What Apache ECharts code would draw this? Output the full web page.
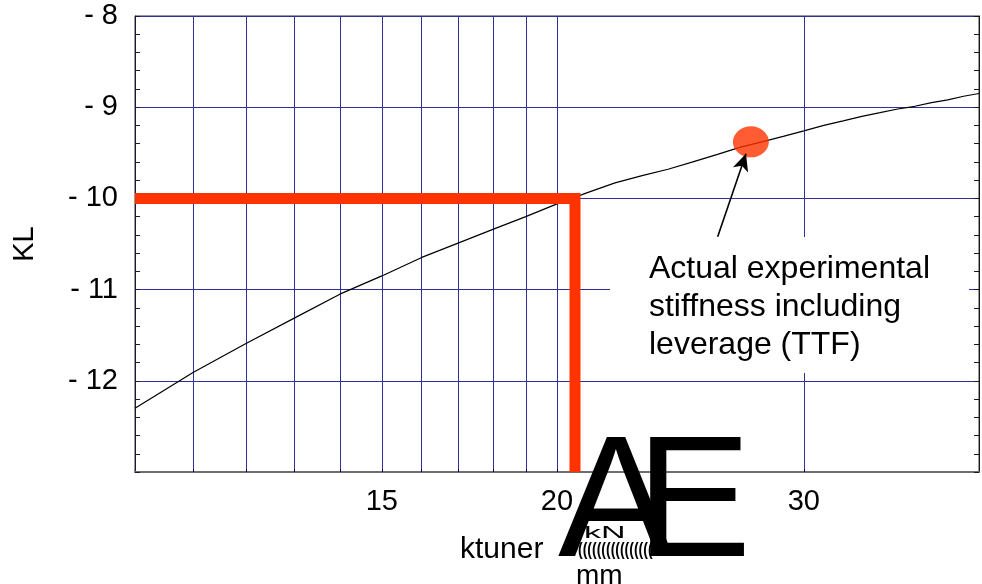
<!DOCTYPE html>
<html>
<head>
<meta charset="utf-8">
<script src="https://cdn.jsdelivr.net/npm/echarts@6/dist/echarts.min.js"></script>
<style>
  html, body { margin: 0; padding: 0; background: #fff; }
  #chart { width: 982px; height: 584px; }
</style>
</head>
<body>
<div id="chart"></div>
<script>
// Tuner stiffness ktuner [kN/mm] against KL
const ktuner = [10, 11, 12, 13, 14, 15, 16, 17, 18, 19, 20, 21, 22, 23, 24, 25,
                26, 27, 28, 29, 30, 31, 32, 33, 34, 35, 36, 37, 38, 39, 40];
const klValues = [-12.30, -11.91, -11.59, -11.31, -11.05, -10.85, -10.65, -10.49,
                  -10.34, -10.20, -10.06, -9.94, -9.83, -9.75, -9.68, -9.60,
                  -9.52, -9.44, -9.38, -9.32, -9.26, -9.20, -9.15, -9.10, -9.06,
                  -9.02, -8.99, -8.95, -8.92, -8.88, -8.85];

// Design point: KL = -10 reached at ktuner ~ 20.6
const targetKtuner = 20.6;
const targetKL = -10;

// Measured stiffness (including leverage)
const measuredPoint = [27.5, -9.38];
const arrowTail = [26.04, -10.42];
const arrowHead = [27.28, -9.51];
const noteAnchor = [29.3, -11.17];
const noteLines = ['Actual experimental', 'stiffness including', 'leverage (TTF)'];

// Axis ticks
const xGridValues = [11, 12, 13, 14, 15, 16, 17, 18, 19, 20, 30];
const xLabelValues = [15, 20, 30];
const yMin = -13, yMax = -8;

const ORANGE = '#ff3300';
const GRID_BLUE = '#30309a';
const FONT = 'Arial, "Liberation Sans", Helvetica, sans-serif';

const chart = echarts.init(document.getElementById('chart'), null, { renderer: 'canvas' });

const curveData = ktuner.map((k, i) => [k, klValues[i]]);
const xMin = ktuner[0], xMax = ktuner[ktuner.length - 1];
const targetPath = [[xMin, targetKL], [targetKtuner, targetKL], [targetKtuner, yMin]];

chart.setOption({
  animation: false,
  backgroundColor: '#fff',
  grid: { left: 135, right: 3, top: 16, bottom: 112, show: true, borderColor: '#333', borderWidth: 1 },
  xAxis: [{
    type: 'log',
    logBase: 10,
    min: xMin,
    max: xMax,
    axisLine: { show: true, lineStyle: { color: '#6e6e6e', width: 2 } },
    axisTick: { show: true, inside: true, length: 3, customValues: xGridValues,
                lineStyle: { color: '#000060', width: 1 } },
    minorTick: { show: false },
    axisLabel: { customValues: xLabelValues, formatter: v => String(Math.round(v)),
                 fontSize: 29, fontFamily: FONT, color: '#000', margin: 15 },
    splitLine: { show: true, lineStyle: { color: GRID_BLUE, width: 1 } }
  }],
  yAxis: [{
    type: 'value',
    position: 'left',
    min: yMin,
    max: yMax,
    interval: 1,
    name: 'KL',
    nameLocation: 'middle',
    nameGap: 96,
    nameTextStyle: { fontSize: 29, fontFamily: FONT, color: '#000' },
    axisLine: { show: true, lineStyle: { color: '#1a1a3a', width: 1 } },
    axisTick: { show: true, inside: true, length: 5, lineStyle: { color: '#1a1a3a' } },
    minorTick: { show: true, splitNumber: 5, length: 5, lineStyle: { color: '#1a1a3a' } },
    axisLabel: {
      formatter: v => (v === yMin ? '' : '- ' + Math.abs(v)),
      fontSize: 29, fontFamily: FONT, color: '#000', margin: 17
    },
    splitLine: { show: true, lineStyle: { color: GRID_BLUE, width: 1 } }
  }, {
    type: 'value',
    position: 'right',
    min: yMin,
    max: yMax,
    interval: 1,
    axisLine: { show: true, lineStyle: { color: '#1a1a1a', width: 1 } },
    axisTick: { show: true, inside: true, length: 5, lineStyle: { color: '#1a1a1a' } },
    minorTick: { show: true, splitNumber: 5, length: 5, lineStyle: { color: '#1a1a1a' } },
    axisLabel: { show: false },
    splitLine: { show: false }
  }],
  series: [{
    name: 'KL',
    type: 'line',
    data: curveData,
    symbol: 'none',
    silent: true,
    z: 2,
    lineStyle: { color: '#000', width: 1.2 }
  }, {
    name: 'target',
    type: 'line',
    data: targetPath,
    symbol: 'none',
    silent: true,
    z: 3,
    lineStyle: { color: ORANGE, width: 11, join: 'miter', cap: 'butt' }
  }, {
    name: 'measured',
    type: 'scatter',
    data: [measuredPoint],
    symbol: 'circle',
    symbolSize: [36, 31],
    silent: true,
    z: 4,
    itemStyle: { color: ORANGE },
    markLine: {
      silent: true,
      symbol: ['none', 'arrow'],
      symbolSize: [12, 17],
      label: { show: false },
      lineStyle: { color: '#000', width: 1.6, type: 'solid' },
      data: [[{ coord: arrowTail }, { coord: arrowHead }]]
    },
    markPoint: {
      silent: true,
      data: [{
        coord: noteAnchor,
        symbol: 'rect',
        symbolSize: [359, 136],
        itemStyle: { color: '#fff' },
        label: {
          show: true,
          position: [39, 13],
          align: 'left',
          verticalAlign: 'top',
          formatter: noteLines.join('\n'),
          fontSize: 32,
          lineHeight: 38,
          fontFamily: FONT,
          color: '#000'
        }
      }]
    }
  }],
  graphic: [
    { type: 'text', silent: true, z: 100, style: { text: 'ktuner', x: 460, y: 550, font: '30px ' + FONT, fill: '#000', verticalAlign: 'middle' } },
    { type: 'text', silent: true, z: 100, style: { text: 'A', x: 558, y: 508, font: '173px ' + FONT, fill: '#000', verticalAlign: 'middle' } },
    { type: 'text', silent: true, z: 100, style: { text: 'E', x: 636, y: 508, font: '173px ' + FONT, fill: '#000', verticalAlign: 'middle' } },
    { type: 'text', silent: true, z: 101, x: 584, y: 533, scaleX: 2, style: { text: 'kN', x: 0, y: 0, font: '17px ' + FONT, fill: '#000', verticalAlign: 'middle' } },
    { type: 'text', silent: true, z: 101, x: 578, y: 550, scaleY: 1.3, style: { text: '((((((((((((((((', x: 0, y: 0, font: 'bold 14px ' + FONT, fill: '#000', verticalAlign: 'middle' } },
    { type: 'text', silent: true, z: 100, style: { text: 'mm', x: 576, y: 576, font: '28px ' + FONT, fill: '#000', verticalAlign: 'middle' } }
  ]
});
</script>
</body>
</html>
